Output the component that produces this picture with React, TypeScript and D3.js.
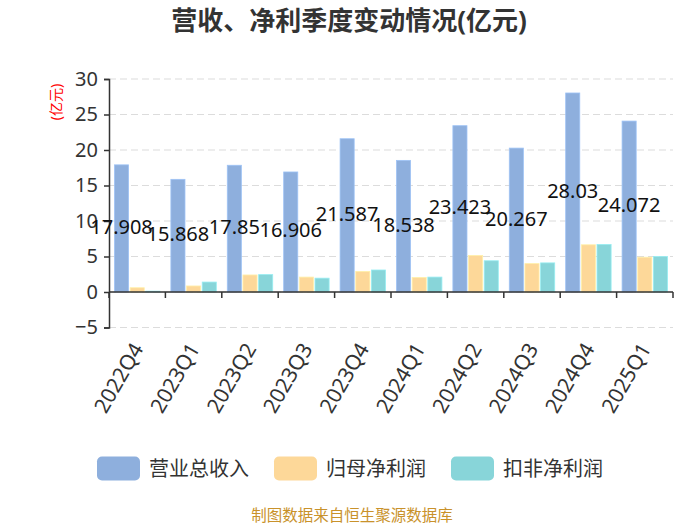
import { useRef, useEffect } from 'react';
import * as d3 from 'd3';

const QUARTERS = ['2022Q4', '2023Q1', '2023Q2', '2023Q3', '2023Q4', '2024Q1', '2024Q2', '2024Q3', '2024Q4', '2025Q1'];
const REVENUE = [17.908, 15.868, 17.85, 16.906, 21.587, 18.538, 23.423, 20.267, 28.03, 24.072];
const NET_PROFIT = [0.6, 0.85, 2.4, 2.1, 2.9, 2.05, 5.15, 4.0, 6.65, 4.9];
const DEDUCTED_PROFIT = [0.12, 1.4, 2.45, 1.95, 3.1, 2.1, 4.4, 4.1, 6.7, 5.0];
const SERIES_NAMES = ['营业总收入', '归母净利润', '扣非净利润'];
const Y_TICKS = [-5, 0, 5, 10, 15, 20, 25, 30];

const COLORS = ['#8eafdd', '#fdd899', '#88d5d9'];
const FONT = '"Noto Sans", "Noto Sans CJK SC", sans-serif';

export default function App() {
  const svgRef = useRef<SVGSVGElement>(null);

  useEffect(() => {
    if (!svgRef.current) return;
    const svg = d3.select(svgRef.current);
    svg.selectAll('*').remove();

    const left = 109;
    const right = 673;
    const top = 79;
    const bottom = 327.5;

    const x = d3.scaleBand<string>().domain(QUARTERS).range([left, right]).padding(0);
    const sub = d3
      .scaleBand<number>()
      .domain([0, 1, 2])
      .range([0, x.bandwidth()])
      .paddingInner(0.1)
      .paddingOuter(0.35);
    const y = d3.scaleLinear().domain([-5, 30]).range([bottom, top]);

    // grid
    svg
      .append('g')
      .selectAll('line')
      .data(Y_TICKS)
      .join('line')
      .attr('x1', left)
      .attr('x2', right)
      .attr('y1', (d) => y(d))
      .attr('y2', (d) => y(d))
      .attr('stroke', '#dcdcdc')
      .attr('stroke-width', 1.2)
      .attr('stroke-dasharray', '7,4');

    // bars
    const seriesValues = [REVENUE, NET_PROFIT, DEDUCTED_PROFIT];
    seriesValues.forEach((vals, si) => {
      svg
        .append('g')
        .selectAll('rect')
        .data(vals)
        .join('rect')
        .attr('x', (_, i) => (x(QUARTERS[i]) ?? 0) + (sub(si) ?? 0))
        .attr('width', sub.bandwidth())
        .attr('y', (d) => y(Math.max(0, d)))
        .attr('height', (d) => Math.abs(y(d) - y(0)))
        .attr('fill', COLORS[si])
        .attr('stroke', d3.color(COLORS[si])!.brighter(0.3).formatHex())
        .attr('stroke-width', 0.8);
    });

    // y axis
    const yAxis = svg
      .append('g')
      .attr('transform', `translate(${left},0)`)
      .call(d3.axisLeft(y).tickValues(Y_TICKS).tickSize(5).tickPadding(6).tickFormat(d3.format('d')));
    yAxis.select('.domain').attr('stroke', '#333').attr('stroke-width', 1.5);
    yAxis.selectAll('.tick line').attr('stroke', '#333').attr('stroke-width', 1.5);
    yAxis
      .selectAll('.tick text')
      .attr('font-family', FONT)
      .attr('font-size', 20)
      .attr('fill', '#333');

    // x axis on zero
    svg
      .append('line')
      .attr('x1', left)
      .attr('x2', right)
      .attr('y1', y(0))
      .attr('y2', y(0))
      .attr('stroke', '#333')
      .attr('stroke-width', 1.5);
    const boundaries = [...QUARTERS.map((q) => x(q) ?? 0), right];
    svg
      .append('g')
      .selectAll('line')
      .data(boundaries)
      .join('line')
      .attr('x1', (d) => d)
      .attr('x2', (d) => d)
      .attr('y1', y(0))
      .attr('y2', y(0) + 6)
      .attr('stroke', '#333')
      .attr('stroke-width', 1.5);

    // category labels
    svg
      .append('g')
      .selectAll('text')
      .data(QUARTERS)
      .join('text')
      .attr('transform', (d) => `translate(${(x(d) ?? 0) + x.bandwidth() / 2},${bottom + 17}) rotate(-60)`)
      .attr('text-anchor', 'end')
      .attr('dominant-baseline', 'central')
      .attr('font-family', FONT)
      .attr('font-size', 21)
      .attr('fill', '#333')
      .text((d) => d);

    // value labels on revenue bars
    svg
      .append('g')
      .selectAll('text')
      .data(REVENUE)
      .join('text')
      .attr('x', (_, i) => (x(QUARTERS[i]) ?? 0) + (sub(0) ?? 0) + sub.bandwidth() / 2)
      .attr('y', (d) => (y(d) + y(0)) / 2 - 2)
      .attr('text-anchor', 'middle')
      .attr('dominant-baseline', 'central')
      .attr('font-family', FONT)
      .attr('font-size', 20)
      .attr('fill', '#111')
      .text((d) => String(d));

    // y unit label
    svg
      .append('text')
      .attr('transform', `translate(55,102) rotate(-90)`)
      .attr('text-anchor', 'middle')
      .attr('dominant-baseline', 'central')
      .attr('font-family', FONT)
      .attr('font-size', 14)
      .attr('fill', '#ff0000')
      .text('(亿元)');

    // title
    svg
      .append('text')
      .attr('x', 349)
      .attr('y', 20)
      .attr('text-anchor', 'middle')
      .attr('dominant-baseline', 'central')
      .attr('font-family', FONT)
      .attr('font-size', 26)
      .attr('font-weight', 'bold')
      .attr('fill', '#333')
      .text('营收、净利季度变动情况(亿元)');

    // legend
    const legendX = [97, 274, 451];
    SERIES_NAMES.forEach((name, i) => {
      const g = svg.append('g').attr('transform', `translate(${legendX[i]},456.5)`);
      g.append('rect')
        .attr('width', 43)
        .attr('height', 24)
        .attr('rx', 5)
        .attr('fill', COLORS[i]);
      g.append('text')
        .attr('x', 52)
        .attr('y', 12)
        .attr('dominant-baseline', 'central')
        .attr('font-family', FONT)
        .attr('font-size', 20)
        .attr('fill', '#333')
        .text(name);
    });

    // source footer
    svg
      .append('text')
      .attr('x', 352)
      .attr('y', 515)
      .attr('text-anchor', 'middle')
      .attr('dominant-baseline', 'central')
      .attr('font-family', FONT)
      .attr('font-size', 15.5)
      .attr('fill', '#c9922b')
      .text('制图数据来自恒生聚源数据库');
  }, []);

  return (
    <svg
      ref={svgRef}
      width={700}
      height={525}
      style={{ position: 'absolute', left: 0, top: 0, background: '#fff' }}
    />
  );
}
